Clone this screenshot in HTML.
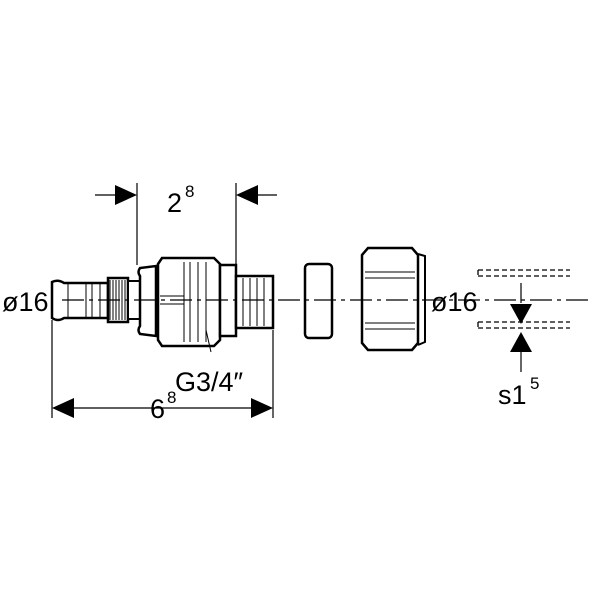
<!DOCTYPE html>
<html><head><style>body{margin:0;background:#fff}svg{display:block}text{font-family:"Liberation Sans",sans-serif;fill:#000}</style></head><body>
<svg width="600" height="600" viewBox="0 0 600 600" xmlns="http://www.w3.org/2000/svg">
<g stroke="#000" fill="none">
<!-- left insert -->
<path d="M52 282 Q58 279 64 283 L108 283 L108 318 L64 318 Q58 322 52 318 Z" stroke-width="2.5" fill="#fff"/>
<line x1="68" y1="283" x2="68" y2="318" stroke-width="1"/><line x1="86" y1="283" x2="86" y2="318" stroke-width="1"/><line x1="92" y1="283" x2="92" y2="318" stroke-width="1"/><line x1="100" y1="283" x2="100" y2="318" stroke-width="1"/>
<rect x="108" y="278" width="20" height="44" stroke-width="2.5" fill="#fff"/>
<path d="M110 280v40M113 280v40M116 280v40M119 280v40M122 280v40M125 280v40" stroke-width="1"/>
<rect x="128" y="281" width="12" height="38" stroke-width="2" fill="#fff"/>
<path d="M140 268 Q137 272 140 276 L140 326 Q137 330 140 334 L156 336 L156 266 Z" stroke-width="2.5" fill="#fff"/>
<!-- body nut -->
<path d="M162 258 L214 258 L220 264 L220 340 L214 346 L162 346 L158 340 L158 264 Z" stroke-width="2.5" fill="#fff"/>
<path d="M160 296h24M160 304h24M184 262v80M190 262v80M198 262v80M206 262v80" stroke-width="1"/>
<rect x="220" y="265" width="16" height="71" stroke-width="2.5" fill="#fff"/>
<rect x="236" y="276" width="37" height="52" stroke-width="2.5" fill="#fff"/>
<path d="M243 278v48M250 278v48M257 278v48M264 278v48" stroke-width="1"/>
<line x1="206" y1="330" x2="211" y2="352" stroke-width="1"/>
<!-- olive -->
<rect x="305" y="264" width="27" height="74" rx="4" stroke-width="2.5" fill="#fff"/>
<!-- nut -->
<path d="M368 248 L412 248 L418 255 L418 343 L412 350 L368 350 L362 343 L362 255 Z" stroke-width="2.5" fill="#fff"/>
<path d="M418 254 L425 256 L425 342 L418 345" stroke-width="2"/>
<path d="M365 272h50M365 278h50M365 323h50M365 329h50" stroke-width="1"/>
<!-- centerline -->
<line x1="62" y1="300" x2="590" y2="300" stroke-width="1.2" stroke-dasharray="22,5,4,5"/>
<!-- pipe dashed -->
<path d="M478 270h92M478 276h92M478 322h92M478 328h92M478 270v6M478 322v6" stroke-width="1.3" stroke-dasharray="5,3"/>
<!-- dims -->
<path d="M137 183v82M236 183v82M52 320v98M273 330v88" stroke-width="1.2"/>
<path d="M95 195h20M256 195h21M74 408h177M521 283v20M521 352v20" stroke-width="1.2"/>
</g>
<g fill="#000">
<polygon points="137,195 115,185 115,205"/>
<polygon points="236,195 258,185 258,205"/>
<polygon points="52,408 74,398 74,418"/>
<polygon points="273,408 251,398 251,418"/>
<polygon points="521,324 510,304 532,304"/>
<polygon points="521,332 510,352 532,352"/>
</g>
<text x="167" y="212" font-size="27">2</text><text x="185" y="197" font-size="17">8</text>
<text x="2" y="311" font-size="27">ø16</text>
<text x="431" y="311" font-size="27">ø16</text>
<text x="175" y="391" font-size="27">G3/4″</text>
<text x="150" y="418" font-size="27">6</text><text x="167" y="403" font-size="17">8</text>
<text x="498" y="404" font-size="27">s1</text><text x="530" y="389" font-size="17">5</text>
</svg>
</body></html>
